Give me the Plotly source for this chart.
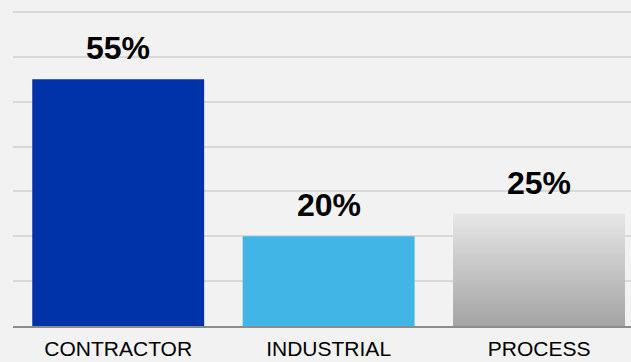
import plotly.graph_objects as go

# Share of respondents by segment
categories = ["CONTRACTOR", "INDUSTRIAL", "PROCESS"]
shares = [55, 20, 25]
labels = ["55%", "20%", "25%"]

solid_colors = ["#0033AA", "#41B6E6", "#E6E6E6"]

FONT = "Liberation Sans, Arial, sans-serif"
BG = "#F2F2F2"

fig = go.Figure()

# Solid bars
fig.add_trace(go.Bar(
    x=categories, y=shares,
    marker=dict(color=solid_colors, line=dict(width=0)),
    width=0.817, hoverinfo="skip", showlegend=False,
))

# Vertical grey gradient on the PROCESS bar, built from thin stacked slices
n_slices = 60
proc_value = shares[categories.index("PROCESS")]
step = proc_value / n_slices
top_rgb = (230, 230, 230)
bot_rgb = (164, 164, 164)
slice_colors = []
for i in range(n_slices):
    t = i / (n_slices - 1)
    c = [round(b + (tp - b) * t) for b, tp in zip(bot_rgb, top_rgb)]
    slice_colors.append(f"rgb({c[0]},{c[1]},{c[2]})")
fig.add_trace(go.Bar(
    x=["PROCESS"] * n_slices,
    y=[step * 1.02] * n_slices,
    base=[i * step for i in range(n_slices)],
    marker=dict(color=slice_colors, line=dict(width=0)),
    width=0.817, hoverinfo="skip", showlegend=False,
))

# Value labels above bars
for cat, val, lab in zip(categories, shares, labels):
    fig.add_annotation(
        x=cat, y=val, text=lab, showarrow=False,
        yanchor="bottom", yshift=11,
        font=dict(family=FONT, size=32, color="#000000", weight="bold"),
    )

fig.update_layout(
    width=631, height=362,
    margin=dict(l=13, r=0, t=10, b=36),
    paper_bgcolor=BG, plot_bgcolor=BG,
    barmode="overlay",
    font=dict(family=FONT),
    xaxis=dict(
        range=[-0.5, 2.437],
        showgrid=False, zeroline=False, automargin=False,
        showline=True, linecolor="#8C8C8C", linewidth=2,
        ticks="", ticklabelstandoff=3,
        tickfont=dict(family=FONT, size=21, color="#000000"),
        fixedrange=True,
    ),
    yaxis=dict(
        range=[0, 70.45], tickvals=[0, 10, 20, 30, 40, 50, 60, 70],
        showgrid=True, gridcolor="#D9D9D9", gridwidth=2,
        zeroline=False, showticklabels=False, ticks="", automargin=False,
        fixedrange=True,
    ),
)

fig.write_html("out.html")
